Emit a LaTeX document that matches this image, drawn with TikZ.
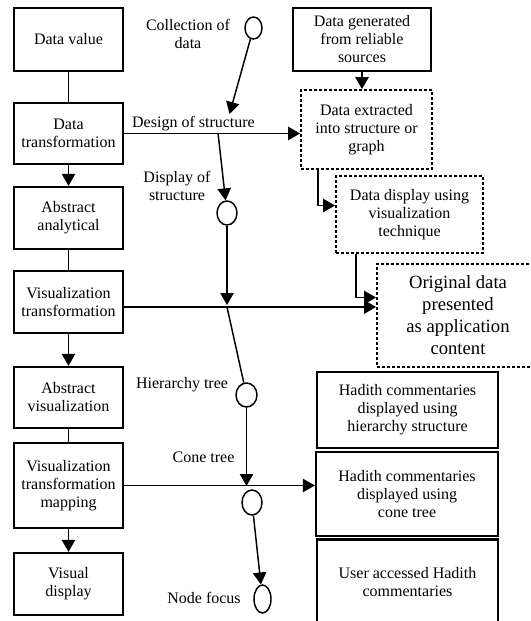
\documentclass[tikz,border=0pt]{standalone}
\usepackage{fontspec}
\setmainfont{Liberation Serif}
\usetikzlibrary{arrows.meta,shapes.geometric,calc}

\tikzset{every picture/.style={line width=1.1pt}}
\tikzset{
	stagebox/.style={draw, line width=1.7pt, align=center, inner sep=2pt, minimum width=81.75pt, minimum height=46.5pt, font=\fontsize{12}{13.5}\selectfont},
	plainbox/.style={draw, line width=1.7pt, align=center, inner sep=2pt, font=\fontsize{12}{13.5}\selectfont},
	dashbox/.style={draw, line width=1.3pt, dash pattern=on 2.25pt off 1.5pt, align=center, inner sep=2pt, font=\fontsize{12}{13.5}\selectfont},
	flowpt/.style={draw, ellipse, inner sep=0pt, line width=1.1pt},
	lbl/.style={align=center, font=\fontsize{12}{14}\selectfont, inner sep=1pt},
	arr/.style={-{Triangle[length=9pt,width=10pt]}}
}

\begin{document}
\begin{tikzpicture}[x=0.75pt,y=0.75pt,yscale=-1,xscale=1]
	\useasboundingbox (0,0) rectangle (531,621);

	%Shape: Rectangle (left column)
	\node[stagebox, minimum height=47.25pt] (val) at (68.5,39.5) {Data value};
	\node[stagebox, minimum height=45.75pt] (trans) at (68.5,133.5) {Data\\transformation};
	\node[stagebox] (anal) at (68.5,218) {Abstract\\analytical};
	\node[stagebox] (vtrans) at (68.5,302) {Visualization\\transformation};
	\node[stagebox, minimum height=45.75pt] (absvis) at (68.5,397.5) {Abstract\\visualization};
	\node[stagebox, minimum height=63.75pt] (vmap) at (68.5,485.5) {Visualization\\transformation\\mapping};
	\node[stagebox] (vdisp) at (68.5,584) {Visual\\display};

	%Shape: Rectangle (right column)
	\node[plainbox, minimum width=103.5pt, minimum height=47.25pt] (gen) at (362,39.5) {Data generated\\from reliable\\sources};
	\node[dashbox, minimum width=98.25pt, minimum height=59.25pt] (extract) at (366.5,129.5) {Data extracted\\into structure or\\graph};
	\node[dashbox, minimum width=110.25pt, minimum height=57.75pt] (show) at (409.5,214.5) {Data display using\\visualization\\technique};
	\node[dashbox, minimum width=121.5pt, minimum height=77.25pt, font=\fontsize{14}{16.5}\selectfont] (orig) at (458,315.5) {Original data\\presented\\as application\\content};
	\node[plainbox, minimum width=135.75pt, minimum height=57pt] (hier) at (407.5,410) {Hadith commentaries\\displayed using\\hierarchy structure};
	\node[plainbox, minimum width=136.5pt, minimum height=63pt] (cone) at (407,494) {Hadith commentaries\\displayed using\\cone tree};
	\node[plainbox, minimum width=135.75pt, minimum height=64.5pt] (user) at (407.5,582.5) {User accessed Hadith\\commentaries};

	%Shape: Ellipse
	\node[flowpt, minimum width=12.75pt, minimum height=16.5pt] (collect) at (253.5,28) {};
	\node[flowpt, minimum width=15pt, minimum height=18pt] (design) at (227,213) {};
	\node[flowpt, minimum width=15.75pt, minimum height=18pt] (hiert) at (246.5,395) {};
	\node[flowpt, minimum width=15pt, minimum height=18.75pt] (conet) at (252,502.5) {};
	\node[flowpt, minimum width=12.75pt, minimum height=21pt] (focus) at (262.5,599) {};

	\coordinate (j1) at (229.5,114);
	\coordinate (j2) at (218,133);
	\coordinate (j3) at (227,305);
	\coordinate (j4) at (227,307);
	\coordinate (j5) at (246.5,486);
	\coordinate (vtout) at ($(vtrans.east)+(0,5)$);

	% Text Node
	\node[lbl] (collectlab) at (188,34) {Collection of\\data};
	% Text Node
	\node[lbl] (designlab) at (193.5,124) {Design of structure};
	% Text Node
	\node[lbl] (showlab) at (177,186) {Display of\\structure};
	% Text Node
	\node[lbl] (hierlab) at (182,385) {Hierarchy tree};
	% Text Node
	\node[lbl] (conelab) at (203.5,457) {Cone tree};
	% Text Node
	\node[lbl] (focuslab) at (204,598) {Node focus};

	%Straight Lines (left column)
	\draw (val) -- (trans);
	\draw[arr] (trans) -- (anal);
	\draw (anal) -- (vtrans);
	\draw[arr] (vtrans) -- (absvis);
	\draw (absvis) -- (vmap);
	\draw[arr] (vmap) -- (vdisp);

	%Straight Lines (across)
	\draw[arr] (trans.east) -- (trans.east -| extract.west);
	\draw[arr] (vtout) -- (vtout -| orig.west);
	\draw[arr] (vmap.east) -- (vmap.east -| cone.west);

	%Straight Lines (right column)
	\draw[arr] (gen.south) -- (gen.south |- extract.north);
	\draw[arr] ($(extract.south west)+(18,0)$) |- ($(show.west)+(0,-9)$);
	\draw[arr] ($(show.south west)+(21,0)$) |- ($(orig.west)+(0,-18)$);

	%Straight Lines (middle)
	\draw[arr] (collect) -- (j1);
	\draw[arr] (j2) -- (design);
	\draw[arr] (design) -- (j3);
	\draw (j4) -- (hiert);
	\draw[arr] (hiert) -- (j5);
	\draw[arr] (conet) -- (focus);

\end{tikzpicture}
\end{document}
